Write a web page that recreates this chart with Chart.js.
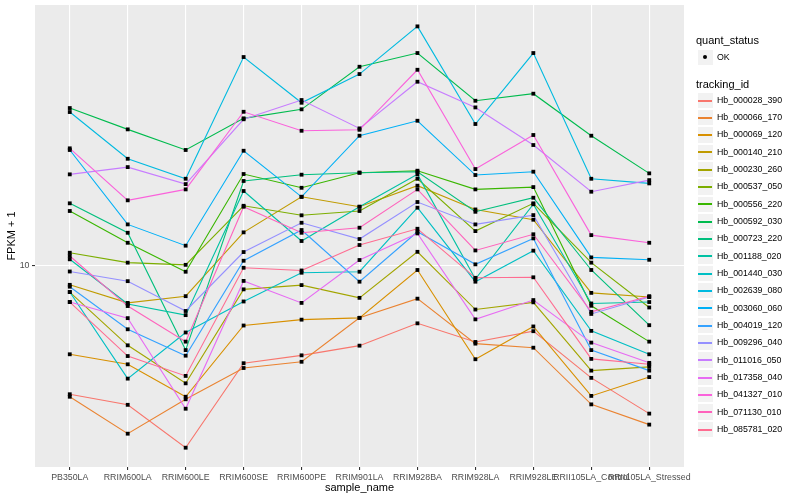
<!DOCTYPE html>
<html>
<head>
<meta charset="utf-8">
<script src="https://cdn.jsdelivr.net/npm/chart.js@4.4.1/dist/chart.umd.min.js"></script>
<style>
  html, body { margin: 0; padding: 0; background: #ffffff; }
  #wrap { position: relative; width: 800px; height: 500px; overflow: hidden; }
  #c { position: absolute; left: 0; top: 0; }
  .lg { position: absolute; font-family: "Liberation Sans", Arial, sans-serif; color: #000; white-space: nowrap; }
  .ttl { font-size: 11px; line-height: 13px; }
  .lab { font-size: 8.8px; line-height: 11px; }
  .key { position: absolute; background: #F2F2F2; box-sizing: border-box; border: 0.6px solid #ffffff; }
  .kline { position: absolute; left: 698px; width: 14px; height: 1.6px; }
</style>
</head>
<body>
<div id="wrap">
  <canvas id="c" width="800" height="500"></canvas>
  <div id="legend"></div>
</div>
<script>
// ---- data ----
const categories = ["PB350LA", "RRIM600LA", "RRIM600LE", "RRIM600SE", "RRIM600PE", "RRIM901LA",
  "RRIM928BA", "RRIM928LA", "RRIM928LE", "RRII105LA_Control", "RRII105LA_Stressed"];

const trackingIds = ["Hb_000028_390", "Hb_000066_170", "Hb_000069_120", "Hb_000140_210", "Hb_000230_260",
  "Hb_000537_050", "Hb_000556_220", "Hb_000592_030", "Hb_000723_220", "Hb_001188_020",
  "Hb_001440_030", "Hb_002639_080", "Hb_003060_060", "Hb_004019_120", "Hb_009296_040",
  "Hb_011016_050", "Hb_017358_040", "Hb_041327_010", "Hb_071130_010", "Hb_085781_020"];

const seriesColors = ["#F8766D", "#EA8331", "#D89000", "#C09B00", "#A3A500", "#7CAE00", "#39B600", "#00BB4E",
  "#00BF7D", "#00C1A3", "#00BFC4", "#00BAE0", "#00B0F6", "#35A2FF", "#9590FF", "#C77CFF",
  "#E76BF3", "#FA62DB", "#FF62BC", "#FF6C91"];

const yTickValues = [10];
const yTickLabels = ["10"];

const hb_000028_390 = [5.88, 5.63, 4.72, 6.68, 6.90, 7.18, 7.87, 7.29, 7.62, 6.29, 5.43];
const hb_000066_170 = [5.82, 5.00, 5.76, 6.55, 6.72, 8.05, 8.71, 7.24, 7.12, 5.64, 5.19];
const hb_000069_120 = [6.93, 6.65, 5.82, 7.80, 7.99, 8.05, 9.80, 6.79, 7.77, 5.84, 6.31];
const hb_000140_210 = [9.22, 8.56, 8.80, 11.44, 13.24, 12.71, 13.86, 12.57, 12.05, 8.92, 8.77];
const hb_000230_260 = [8.95, 7.19, 6.15, 9.05, 9.21, 8.74, 10.56, 8.33, 8.58, 6.48, 6.58];
const hb_000537_050 = [10.52, 10.10, 10.01, 12.76, 12.27, 12.49, 14.26, 11.50, 12.89, 10.10, 8.40];
const hb_000556_220 = [12.49, 10.96, 9.73, 14.54, 13.74, 14.62, 14.74, 13.65, 13.78, 8.46, 7.30];
const hb_000592_030 = [19.07, 17.47, 16.05, 18.28, 18.97, 22.60, 23.91, 19.65, 20.23, 17.02, 14.58];
const hb_000723_220 = [12.89, 11.42, 7.05, 14.13, 14.50, 14.62, 14.68, 12.45, 13.19, 9.80, 7.81];
const hb_001188_020 = [10.24, 8.52, 8.14, 13.56, 11.04, 12.71, 14.52, 9.44, 12.84, 8.54, 8.59];
const hb_001440_030 = [8.95, 6.27, 7.58, 8.61, 9.69, 9.73, 12.66, 9.34, 10.61, 7.63, 6.93];
const hb_002639_080 = [18.76, 15.48, 14.26, 23.52, 19.49, 21.93, 26.68, 17.86, 23.91, 14.26, 13.99];
const hb_003060_060 = [16.05, 11.82, 10.83, 16.00, 13.24, 17.02, 18.10, 14.48, 14.68, 10.32, 10.22];
const hb_004019_120 = [9.15, 7.68, 6.89, 10.18, 11.55, 9.34, 11.47, 10.03, 11.16, 7.05, 6.48];
const hb_009296_040 = [9.74, 9.36, 8.28, 10.55, 11.90, 11.13, 12.96, 11.82, 12.28, 8.18, 8.77];
const hb_011016_050 = [14.52, 14.96, 13.95, 18.21, 19.71, 17.54, 21.25, 19.12, 16.38, 13.52, 14.18];
const hb_017358_040 = [8.59, 8.04, 5.54, 9.37, 8.56, 10.21, 11.39, 8.00, 8.66, 7.27, 6.69];
const hb_041327_010 = [16.16, 13.05, 13.65, 18.78, 17.37, 17.44, 22.32, 14.84, 17.07, 11.31, 10.96];
const hb_071130_010 = [10.38, 8.45, 7.30, 12.71, 11.42, 11.66, 13.65, 10.62, 11.35, 8.25, 8.80];
const hb_085781_020 = [8.59, 6.88, 6.34, 9.89, 9.78, 10.86, 11.61, 9.49, 9.51, 6.80, 6.65];

const seriesValues = [hb_000028_390, hb_000066_170, hb_000069_120, hb_000140_210, hb_000230_260,
  hb_000537_050, hb_000556_220, hb_000592_030, hb_000723_220, hb_001188_020,
  hb_001440_030, hb_002639_080, hb_003060_060, hb_004019_120, hb_009296_040,
  hb_011016_050, hb_017358_040, hb_041327_010, hb_071130_010, hb_085781_020];

// ---- build datasets ----
const FONT = '"Liberation Sans", Arial, sans-serif';
Chart.defaults.font.family = FONT;

const datasets = [];
seriesValues.forEach((vals, i) => {
  datasets.push({
    label: trackingIds[i],
    data: vals.map((v, j) => ({ x: j, y: v })),
    borderColor: seriesColors[i],
    backgroundColor: seriesColors[i],
    borderWidth: 1.1,
    pointRadius: 0,
    pointHoverRadius: 0,
    tension: 0,
    fill: false,
    order: 100 - i
  });
});
seriesValues.forEach((vals, i) => {
  datasets.push({
    label: trackingIds[i] + " (OK)",
    data: vals.map((v, j) => ({ x: j, y: v })),
    showLine: false,
    pointStyle: 'rect',
    pointRadius: 2.7,
    pointHoverRadius: 2.7,
    pointBackgroundColor: '#000000',
    pointBorderWidth: 0,
    borderWidth: 0,
    order: 0
  });
});

const panelBg = {
  id: 'panelBg',
  beforeDraw(chart) {
    const { ctx, chartArea: a } = chart;
    ctx.save();
    ctx.fillStyle = '#EBEBEB';
    ctx.fillRect(a.left, a.top, a.right - a.left, a.bottom - a.top);
    ctx.restore();
  }
};

new Chart(document.getElementById('c'), {
  type: 'line',
  data: { datasets },
  plugins: [panelBg],
  options: {
    responsive: false,
    animation: false,
    devicePixelRatio: 1,
    layout: { padding: { top: 5, right: 116, left: 0, bottom: 0 } },
    plugins: { legend: { display: false }, tooltip: { enabled: false } },
    events: [],
    scales: {
      x: {
        type: 'linear',
        min: -0.6,
        max: categories.length - 1 + 0.6,
        afterBuildTicks(scale) { scale.ticks = categories.map((c, i) => ({ value: i })); },
        afterFit(scale) { scale.height = 33; scale.paddingLeft = 0; scale.paddingRight = 0; },
        ticks: {
          autoSkip: false, maxRotation: 0, minRotation: 0, padding: 2.5,
          color: '#4D4D4D', font: { size: 8.8 },
          callback: (v) => categories[Math.round(v)]
        },
        grid: { color: '#FFFFFF', lineWidth: 1.1, tickColor: '#333333', tickLength: 3, tickWidth: 1.1 },
        border: { display: false },
        title: { display: true, text: 'sample_name', color: '#000000', font: { size: 11 }, padding: { top: 0, bottom: 5.4 } }
      },
      y: {
        type: 'logarithmic',
        min: 4.36,
        max: 29.13,
        afterBuildTicks(scale) { scale.ticks = yTickValues.map(v => ({ value: v })); },
        afterFit(scale) { scale.width = 35; scale.paddingTop = 0; scale.paddingBottom = 0; },
        ticks: {
          padding: 2.5, color: '#4D4D4D', font: { size: 8.8 },
          callback: (v) => { const k = yTickValues.indexOf(v); return k >= 0 ? yTickLabels[k] : ''; }
        },
        grid: { color: '#FFFFFF', lineWidth: 1.1, tickColor: '#333333', tickLength: 3, tickWidth: 1.1 },
        border: { display: false },
        title: { display: true, text: 'FPKM + 1', color: '#000000', font: { size: 11 }, padding: { top: 5.4, bottom: 0 } }
      }
    }
  }
});

// ---- legend (ggplot style) ----
const lg = document.getElementById('legend');
function add(html) { lg.insertAdjacentHTML('beforeend', html); }
add('<div class="lg ttl" style="left:696px;top:33.5px;">quant_status</div>');
add('<div class="key" style="left:696.5px;top:48.5px;width:17.3px;height:17.3px;"></div>');
add('<div style="position:absolute;left:703px;top:55px;width:4px;height:4px;border-radius:50%;background:#000;"></div>');
add('<div class="lg lab" style="left:717px;top:51.5px;">OK</div>');
add('<div class="lg ttl" style="left:696px;top:78px;">tracking_id</div>');
trackingIds.forEach((id, i) => {
  const cy = 100.3 + 17.32 * i;
  add('<div class="key" style="left:696.5px;top:' + (cy - 8.66) + 'px;width:17.3px;height:17.32px;"></div>');
  add('<div class="kline" style="top:' + Math.round(cy - 0.8) + 'px;background:' + seriesColors[i] + ';"></div>');
  add('<div class="lg lab" style="left:717px;top:' + (cy - 5.5) + 'px;">' + id + '</div>');
});
</script>
</body>
</html>
